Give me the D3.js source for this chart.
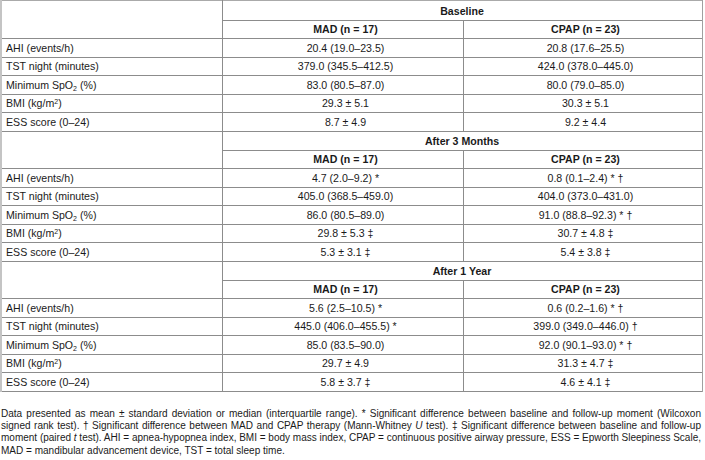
<!DOCTYPE html>
<html>
<head>
<meta charset="utf-8">
<script src="https://cdn.jsdelivr.net/npm/d3@7"></script>
<style>
  html, body { margin: 0; padding: 0; background: #fff; }
  svg { display: block; }
  text { font-family: "Liberation Sans", Arial, sans-serif; fill: #1a1a1a; }
</style>
</head>
<body>
<svg id="chart"></svg>
<script>
// --- table content ---
const sections = ["Baseline", "After 3 Months", "After 1 Year"];
const groups = ["MAD (n = 17)", "CPAP (n = 23)"];
const variables = ["AHI (events/h)", "TST night (minutes)", "Minimum SpO₂ (%)", "BMI (kg/m²)", "ESS score (0–24)"];
const madValues = [
  ["20.4 (19.0–23.5)", "379.0 (345.5–412.5)", "83.0 (80.5–87.0)", "29.3 ± 5.1", "8.7 ± 4.9"],
  ["4.7 (2.0–9.2) *", "405.0 (368.5–459.0)", "86.0 (80.5–89.0)", "29.8 ± 5.3 ‡", "5.3 ± 3.1 ‡"],
  ["5.6 (2.5–10.5) *", "445.0 (406.0–455.5) *", "85.0 (83.5–90.0)", "29.7 ± 4.9", "5.8 ± 3.7 ‡"]
];
const cpapValues = [
  ["20.8 (17.6–25.5)", "424.0 (378.0–445.0)", "80.0 (79.0–85.0)", "30.3 ± 5.1", "9.2 ± 4.4"],
  ["0.8 (0.1–2.4) * †", "404.0 (373.0–431.0)", "91.0 (88.8–92.3) * †", "30.7 ± 4.8 ‡", "5.4 ± 3.8 ‡"],
  ["0.6 (0.2–1.6) * †", "399.0 (349.0–446.0) †", "92.0 (90.1–93.0) * †", "31.3 ± 4.7 ‡", "4.6 ± 4.1 ‡"]
];
const footLines = [
  "Data presented as mean ± standard deviation or median (interquartile range). * Significant difference between baseline and follow-up moment (Wilcoxon",
  "signed rank test). † Significant difference between MAD and CPAP therapy (Mann-Whitney _U_ test). ‡ Significant difference between baseline and follow-up",
  "moment (paired _t_ test). AHI = apnea-hypopnea index, BMI = body mass index, CPAP = continuous positive airway pressure, ESS = Epworth Sleepiness Scale,",
  "MAD = mandibular advancement device, TST = total sleep time."
];

const W = 705, H = 460;
const svg = d3.select('#chart').attr('width', W).attr('height', H);

const rowsPerSection = 2 + variables.length;
const nRows = sections.length * rowsPerSection;
const y = d3.scaleLinear().domain([0, nRows]).range([1, 391]);
const x = d3.scaleLinear().domain([0, 1, 2, 3]).range([1, 222, 463, 702]);
const lineColor = '#8c8c8c';
const fs = 10.6;

// build the row list
const rows = [];
sections.forEach((s, si) => {
  const r0 = si * rowsPerSection;
  rows.push({ r: r0, type: 'section', label: s });
  rows.push({ r: r0 + 1, type: 'group' });
  variables.forEach((v, vi) => {
    rows.push({ r: r0 + 2 + vi, type: 'data', label: v, mad: madValues[si][vi], cpap: cpapValues[si][vi] });
  });
});

// grid lines
const g = svg.append('g').attr('shape-rendering', 'crispEdges');
const hline = (x1, x2, yy, col) => g.append('line').attr('x1', x1).attr('x2', x2)
  .attr('y1', yy).attr('y2', yy).style('stroke', col || lineColor).style('stroke-width', 1);
const vline = (xx, y1, y2, col, sw) => g.append('line').attr('x1', xx).attr('x2', xx)
  .attr('y1', y1).attr('y2', y2).style('stroke', col || lineColor).style('stroke-width', sw || 1);
const yB = Math.round(y(nRows)) + 0.5;

rows.forEach(d => {
  if (d.r === 0) return;
  hline(d.type === 'group' ? x(1) : x(0), x(3), Math.round(y(d.r)) + 0.5);
});
hline(x(0), x(3), 0.5, '#aaa');
hline(x(0), x(3), yB);
vline(1, 0, yB + 0.5, '#c4c4c4', 2);
vline(x(3) + 0.5, 0, yB + 0.5, '#a0a0a0');
vline(x(1) + 0.5, 0, yB + 0.5);
sections.forEach((s, si) => {
  const r0 = si * rowsPerSection;
  vline(x(2) + 0.5, Math.round(y(r0 + 1)), Math.round(y(r0 + rowsPerSection)) + 1);
});

// text
const base = r => y(r) + 13.6;
const cellText = (tx, ty, str, anchor, bold) => {
  const t = svg.append('text').attr('x', tx).attr('y', ty)
    .attr('text-anchor', anchor).style('font-size', fs + 'px')
    .style('font-weight', bold ? 'bold' : 'normal');
  // sub/superscript 2: shift it, then shift back on the following piece
  let back = 0;
  str.split(/([₂²])/).forEach(part => {
    if (!part) return;
    if (part === '₂' || part === '²') {
      const dy = part === '₂' ? 2.5 : -3.5;
      t.append('tspan').attr('dy', dy + back).style('font-size', '7px').text('2');
      back = -dy;
    } else {
      t.append('tspan').attr('dy', back).text(part);
      back = 0;
    }
  });
  return t;
};
rows.forEach(d => {
  if (d.type === 'section') {
    cellText((x(1) + x(3)) / 2, base(d.r), d.label, 'middle', true);
  } else if (d.type === 'group') {
    groups.forEach((gname, gi) => cellText((x(gi + 1) + x(gi + 2)) / 2 + 3, base(d.r), gname, 'middle', true));
  } else {
    cellText(6, base(d.r), d.label, 'start', false);
    cellText((x(1) + x(2)) / 2 + 3, base(d.r), d.mad, 'middle', false);
    cellText((x(2) + x(3)) / 2 + 3, base(d.r), d.cpap, 'middle', false);
  }
});

// footnote in a horizontally condensed group, justified except the last line
const squeeze = 0.93;
const foot = svg.append('g').attr('transform', `translate(1,0) scale(${squeeze},1)`);
const footY = d3.scaleLinear().domain([0, 1]).range([417, 429.2]);
footLines.forEach((line, li) => {
  const t = foot.append('text').attr('x', 0).attr('y', footY(li))
    .style('font-size', '10.8px');
  line.split(/(_[^_]+_)/).forEach(part => {
    if (/^_.*_$/.test(part)) t.append('tspan').style('font-style', 'italic').text(part.slice(1, -1));
    else if (part) t.append('tspan').text(part);
  });
  if (li < footLines.length - 1) {
    const target = 700 / squeeze;
    const w = t.node().getComputedTextLength();
    const spaces = (line.match(/ /g) || []).length;
    if (w < target) t.style('word-spacing', ((target - w) / spaces) + 'px');
    else t.attr('textLength', target).attr('lengthAdjust', 'spacingAndGlyphs');
  }
});
</script>
</body>
</html>
